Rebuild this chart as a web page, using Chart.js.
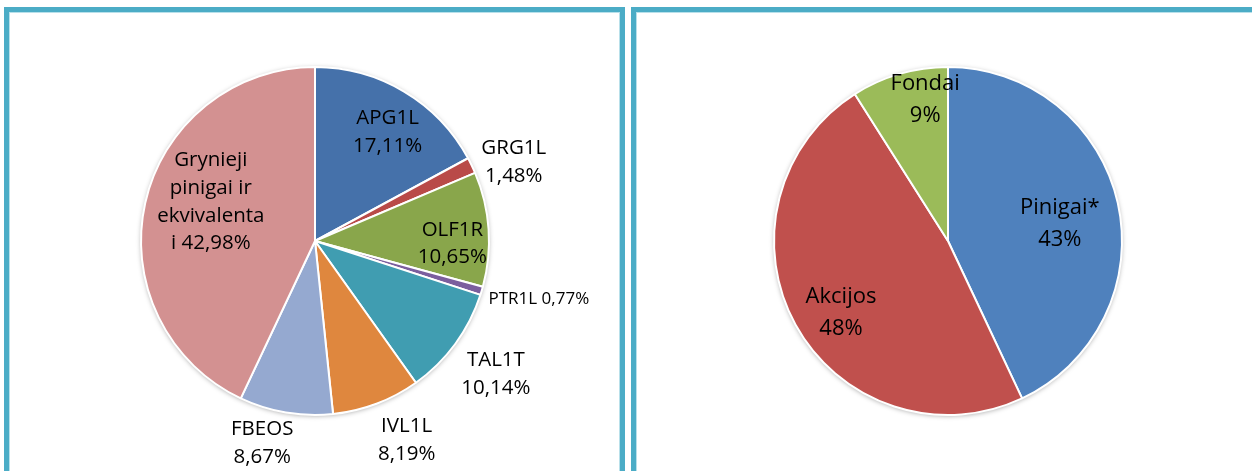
<!DOCTYPE html>
<html>
<head>
<meta charset="utf-8">
<script src="https://cdn.jsdelivr.net/npm/chart.js@4"></script>
<style>
  html, body { margin: 0; padding: 0; background: #fff; }
  body { width: 1252px; height: 471px; position: relative; overflow: hidden; }
  .panel { position: absolute; top: 7px; height: 480px; border: 5px solid #4bacc6; border-bottom: none; box-shadow: inset 1px 1px 0 #b8e0ea, inset -1px 0 0 #b8e0ea; }
  #p1 { left: 4px; width: 611px; }
  #p2 { left: 631px; width: 640px; }
  canvas { position: absolute; top: 0; }
  #c1 { left: 0; }
  #c2 { left: 626px; }
</style>
</head>
<body>
<div class="panel" id="p1"></div>
<div class="panel" id="p2"></div>
<canvas id="c1" width="626" height="471"></canvas>
<canvas id="c2" width="626" height="471"></canvas>
<script>
// Left pie: portfolio composition
const leftLabels = [
  ['APG1L', '17,11%'],
  ['GRG1L', '1,48%'],
  ['OLF1R', '10,65%'],
  ['PTR1L 0,77%'],
  ['TAL1T', '10,14%'],
  ['IVL1L', '8,19%'],
  ['FBEOS', '8,67%'],
  ['Grynieji', 'pinigai ir', 'ekvivalenta', 'i 42,98%']
];
const leftValues = [17.11, 1.48, 10.65, 0.77, 10.14, 8.19, 8.67, 42.98];
const leftColors = ['#4571aa', '#b94a48', '#89a64b', '#7b5e9e', '#409db1', '#df873e', '#95a9d0', '#d39191'];
// label placement: distance (x radius) and angle shift in degrees
const leftLabelRadius = [0.75, 1.23, 0.79, 1.33, 1.29, 1.26, 1.2, 0.64];
const leftLabelShift = [3, 4, 5, -2, 0, -4, 5, 8];
const leftLabelSize = [20.5, 20.5, 20.5, 17, 20.5, 20.5, 20.5, 20.5];

// Right pie: asset classes
const rightLabels = [['Pinigai*', '43%'], ['Akcijos', '48%'], ['Fondai', '9%']];
const rightValues = [43, 48, 9];
const rightColors = ['#4f81bd', '#c0504d', '#9bbb59'];
const rightLabelRadius = [0.65, 0.74, 0.82];
const rightLabelShift = [4, -5, 7];
const rightLabelSize = [22, 22, 22];

const fontFamily = '"Open Sans", "Noto Sans", sans-serif';

const sliceLabels = {
  id: 'sliceLabels',
  afterDatasetsDraw(chart, args, opts) {
    const ctx = chart.ctx;
    const meta = chart.getDatasetMeta(0);
    ctx.save();
    ctx.fillStyle = '#000';
    ctx.textAlign = 'center';
    ctx.textBaseline = 'middle';
    meta.data.forEach(function (arc, i) {
      const mid = (arc.startAngle + arc.endAngle) / 2 + opts.shift[i] * Math.PI / 180;
      const r = arc.outerRadius * opts.radius[i];
      const x = arc.x + Math.cos(mid) * r;
      const y = arc.y + Math.sin(mid) * r;
      const lines = opts.labels[i];
      const lh = opts.size[i] * opts.lineHeight;
      ctx.font = opts.size[i] + 'px ' + fontFamily;
      lines.forEach(function (line, k) {
        ctx.fillText(line, x, y + (k - (lines.length - 1) / 2) * lh);
      });
    });
    ctx.restore();
  }
};

const pieShadow = {
  id: 'pieShadow',
  beforeDatasetsDraw(chart) {
    const arc = chart.getDatasetMeta(0).data[0];
    const ctx = chart.ctx;
    ctx.save();
    ctx.shadowColor = 'rgba(0,0,0,0.35)';
    ctx.shadowBlur = 5;
    ctx.shadowOffsetY = 1;
    ctx.fillStyle = '#fff';
    ctx.beginPath();
    ctx.arc(arc.x, arc.y, arc.outerRadius, 0, Math.PI * 2);
    ctx.fill();
    ctx.restore();
  }
};

function makePie(id, labels, values, colors, radius, shift, size, lineHeight, padding) {
  new Chart(document.getElementById(id).getContext('2d'), {
    type: 'pie',
    data: {
      labels: labels.map(function (l) { return l.join(' '); }),
      datasets: [{
        data: values,
        backgroundColor: colors,
        borderColor: '#fff',
        borderWidth: 2
      }]
    },
    options: {
      responsive: false,
      animation: false,
      layout: { padding: padding },
      plugins: {
        legend: { display: false },
        tooltip: { enabled: false },
        sliceLabels: { labels: labels, radius: radius, shift: shift, size: size, lineHeight: lineHeight }
      }
    },
    plugins: [pieShadow, sliceLabels]
  });
}

makePie('c1', leftLabels, leftValues, leftColors, leftLabelRadius, leftLabelShift, leftLabelSize, 1.36,
  { left: 140, right: 136, top: 66, bottom: 55 });
makePie('c2', rightLabels, rightValues, rightColors, rightLabelRadius, rightLabelShift, rightLabelSize, 1.45,
  { left: 147, right: 129, top: 66, bottom: 55 });
</script>
</body>
</html>
